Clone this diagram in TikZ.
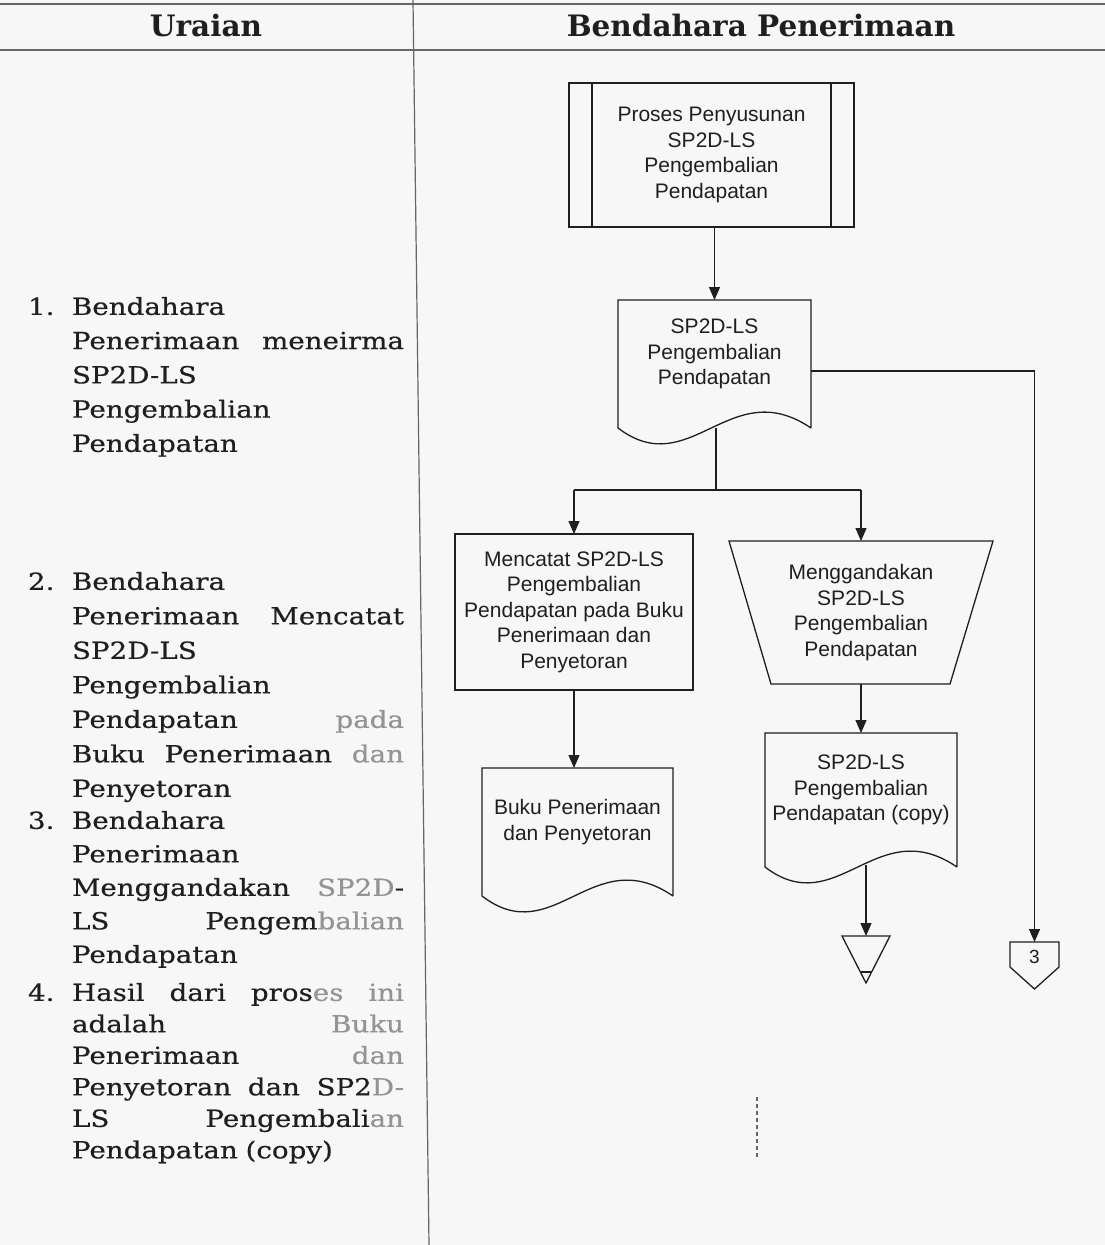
\documentclass[tikz,border=0pt]{standalone}
\usepackage{fontspec}
\usetikzlibrary{arrows.meta,calc}

\newfontfamily\bodyfont[FakeStretch=1.18,FakeBold=0.5]{DejaVu Serif}
\newfontfamily\headfont{DejaVu Serif}
\newfontfamily\chartfont{Liberation Sans}

\definecolor{paper}{gray}{0.97}
\definecolor{ink}{gray}{0.12}
\definecolor{rule}{gray}{0.40}
\definecolor{faded}{gray}{0.58}

% one fully justified line of the description column (words split by \hfill)
\newcommand\jline[1]{\leavevmode\hbox to 332pt{#1}}
% hanging item number
\newcommand\itemno[1]{\leavevmode\llap{\makebox[44pt][l]{#1}}}
% document symbol with a wavy lower edge (edge base 20pt below the node)
\newcommand\docoutline[1]{%
  \draw[line] ($(#1.south east)+(0,20)$) -- (#1.north east) -- (#1.north west)
    -- ($(#1.south west)+(0,20)$)
    .. controls ($(#1.south west)!0.375!(#1.south east)+(0,75)$)
       and ($(#1.south west)!0.58!(#1.south east)+(0,-35)$)
    .. ($(#1.south east)+(0,20)$);}

\tikzset{
  line/.style={draw=ink, line width=1.3pt},
  flow/.style={line, -{Triangle[length=13pt,width=11pt]}},
  rulel/.style={draw=rule, line width=1.2pt},
  chart/.style={font=\chartfont\fontsize{21}{25.5}\selectfont, text=ink,
    align=center, inner sep=0pt, outer sep=0pt},
  procbox/.style={chart, line},
  body/.style={text=ink, text width=332pt, align=left, inner sep=0pt,
    outer sep=0pt, anchor=north west},
  head/.style={font=\headfont\bfseries\fontsize{29.5}{34}\selectfont, text=ink,
    inner sep=0pt}
}

\begin{document}
\begin{tikzpicture}[x=1pt,y=-1pt]
  \fill[paper] (0,0) rectangle (1105,1245);
  \useasboundingbox (0,0) rectangle (1105,1245);

  % table frame
  \draw[rulel] (0,4) -- (1105,4);
  \draw[rulel] (0,50) -- (1105,50);
  \draw[rulel] (413,0) -- (429,1245);

  % column headings
  \node[head] (hU) at (206,26) {Uraian};
  \node[head] (hB) at (761,26) {Bendahara Penerimaan};

  % description column
  \node[body, font=\bodyfont\fontsize{23.5}{34.25}\selectfont] (u1) at (72,297)
    {\itemno{1.}Bendahara\\
     \jline{Penerimaan\hfill meneirma}\\
     SP2D-LS\\
     Pengembalian\\
     Pendapatan};
  \node[body, font=\bodyfont\fontsize{23.5}{34.5}\selectfont] (u2) at (72,572)
    {\itemno{2.}Bendahara\\
     \jline{Penerimaan\hfill Mencatat}\\
     SP2D-LS\\
     Pengembalian\\
     \jline{Pendapatan\hfill\textcolor{faded}{pada}}\\
     \jline{Buku\hfill Penerimaan\hfill\textcolor{faded}{dan}}\\
     Penyetoran};
  \node[body, font=\bodyfont\fontsize{23.5}{33.5}\selectfont] (u3) at (72,811)
    {\itemno{3.}Bendahara\\
     Penerimaan\\
     \jline{Menggandakan\hfill\textcolor{faded}{SP2D}-}\\
     \jline{LS\hfill Pengem\textcolor{faded}{balian}}\\
     Pendapatan};
  \node[body, font=\bodyfont\fontsize{23.5}{31.5}\selectfont] (u4) at (72,983)
    {\itemno{4.}\jline{Hasil\hfill dari\hfill pros\textcolor{faded}{es}\hfill\textcolor{faded}{ini}}\\
     \jline{adalah\hfill\textcolor{faded}{Buku}}\\
     \jline{Penerimaan\hfill\textcolor{faded}{dan}}\\
     \jline{Penyetoran\hfill dan\hfill SP2\textcolor{faded}{D-}}\\
     \jline{LS\hfill Pengembali\textcolor{faded}{an}}\\
     Pendapatan (copy)};

  % predefined process
  \node[procbox, minimum width=285pt, minimum height=144pt] (proc) at (711.5,155)
    {Proses Penyusunan\\SP2D-LS\\Pengembalian\\Pendapatan};
  \draw[line] ($(proc.north west)+(23,0)$) -- ($(proc.south west)+(23,0)$);
  \draw[line] ($(proc.north east)+(-23,0)$) -- ($(proc.south east)+(-23,0)$);

  % received document
  \node[chart, minimum width=193pt, minimum height=108pt] (d1) at (714.5,354)
    {SP2D-LS\\Pengembalian\\Pendapatan};
  \docoutline{d1}

  % recording step
  \node[procbox, minimum width=238pt, minimum height=156pt] (mcat) at (574,612)
    {Mencatat SP2D-LS\\Pengembalian\\Pendapatan pada Buku\\Penerimaan dan\\Penyetoran};

  % manual copying step
  \node[chart, minimum width=264pt, minimum height=143pt] (mgd) at (861,612.5)
    {Menggandakan\\SP2D-LS\\Pengembalian\\Pendapatan};
  \draw[line] (mgd.north west) -- (mgd.north east) -- ($(mgd.south east)+(-43,0)$)
    -- ($(mgd.south west)+(42,0)$) -- cycle;

  % resulting documents
  \node[chart, minimum width=191pt, minimum height=108pt] (buku) at (577.5,822)
    {Buku Penerimaan\\dan Penyetoran};
  \docoutline{buku}
  \node[chart, minimum width=192pt, minimum height=114pt] (copy) at (861,790)
    {SP2D-LS\\Pengembalian\\Pendapatan (copy)};
  \docoutline{copy}

  % archive
  \node[inner sep=0pt, outer sep=0pt, minimum width=48pt, minimum height=47pt] (store) at (866,959.5) {};
  \draw[line] (store.north west) -- (store.north east) -- (store.south) -- cycle;
  \draw[line] ($(store.south)+(-5.6,-11)$) -- ($(store.south)+(5.6,-11)$);

  % off-page connector
  \node[chart, font=\chartfont\fontsize{19}{22}\selectfont, minimum width=49pt, minimum height=30pt] (three) at (1034.5,957) {3};
  \draw[line] (three.north west) -- (three.north east) -- ($(three.north east)+(0,25)$)
    -- ($(three.south)+(0,17)$) -- ($(three.north west)+(0,25)$) -- cycle;

  % connectors
  \draw[flow] (proc.south -| d1.north) -- (d1.north);
  \draw[flow] ($(d1.east)+(0,17)$) -| (three.north);
  \coordinate (split) at ($(d1.south)+(1.5,82)$);
  \draw[line] ($(d1.south)+(1.5,20)$) -- (split);
  \draw[line] (mcat.north |- split) -- (mgd.north |- split);
  \draw[flow] (mcat.north |- split) -- (mcat.north);
  \draw[flow] (mgd.north |- split) -- (mgd.north);
  \draw[flow] (mcat.south) -- (mcat.south |- buku.north);
  \draw[flow] (mgd.south) -- (mgd.south |- copy.north);
  \draw[flow] ($(copy.south)+(5,18)$) -- (store.north);

  % faint dotted trace below the chart
  \draw[draw=rule, line width=1.2pt, dash pattern=on 4pt off 3pt] (757,1097) -- (757,1158);
\end{tikzpicture}
\end{document}
